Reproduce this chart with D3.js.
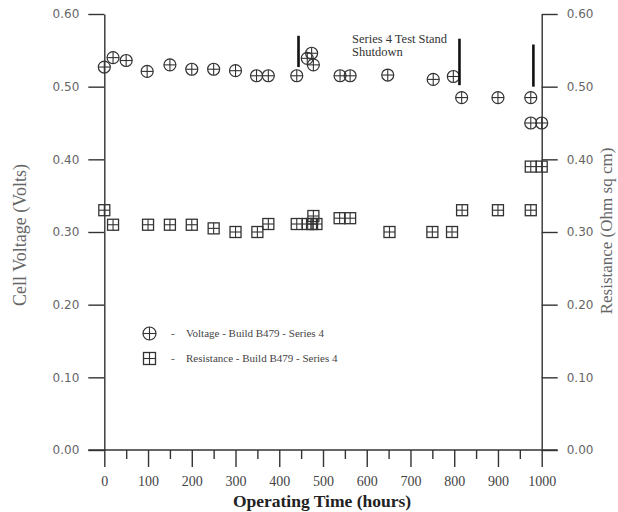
<!DOCTYPE html>
<html>
<head>
<meta charset="utf-8">
<script src="https://cdn.jsdelivr.net/npm/d3@7"></script>
<style>
  html, body { margin: 0; padding: 0; background: #fff; }
  svg { display: block; }
</style>
</head>
<body>
<svg id="chart" width="618" height="512"></svg>
<script>
// ---- data ----
const voltageHours = [0, 20, 50, 98, 150, 200, 250, 300, 348, 375, 440, 464, 474, 478, 539, 562, 648, 752, 798, 817, 900, 975, 975, 1000];
const voltageValues = [0.527, 0.540, 0.536, 0.521, 0.530, 0.524, 0.524, 0.522, 0.515, 0.515, 0.515, 0.539, 0.546, 0.530, 0.515, 0.515, 0.516, 0.510, 0.514, 0.485, 0.485, 0.485, 0.450, 0.450];

const resistanceHours = [0, 20, 100, 150, 200, 250, 300, 350, 375, 440, 465, 475, 478, 485, 538, 562, 652, 750, 795, 818, 900, 975, 975, 1000];
const resistanceValues = [0.330, 0.310, 0.310, 0.310, 0.310, 0.305, 0.300, 0.300, 0.311, 0.311, 0.311, 0.311, 0.322, 0.311, 0.319, 0.319, 0.300, 0.300, 0.300, 0.330, 0.330, 0.330, 0.390, 0.390];

const xTickValues = [0, 100, 200, 300, 400, 500, 600, 700, 800, 900, 1000];
const xMinorTicks = [50, 150, 250, 350, 450, 550, 650, 750, 850, 950];
const yTickValues = [0.00, 0.10, 0.20, 0.30, 0.40, 0.50, 0.60];

const shutdownHours = [444, 812, 981];
const shutdownTop = [0.570, 0.566, 0.558];
const shutdownBottom = [0.527, 0.502, 0.500];

const annotationLines = ["Series 4 Test Stand", "Shutdown"];
const legendLabels = ["Voltage - Build B479 - Series 4", "Resistance - Build B479 - Series 4"];

// ---- layout ----
const svg = d3.select("#chart");
const x = d3.scaleLinear().domain([0, 1000]).range([104.3, 541.7]);
const yL = d3.scaleLinear().domain([0, 0.6]).range([450, 14]);
const yR = d3.scaleLinear().domain([0, 0.6]).range([450, 14]);

const axisColor = "#333";
const serif = "'Liberation Serif', 'Times New Roman', serif";
const sans = "'DejaVu Sans', sans-serif";

function styleAxis(g, font, size, color) {
  g.selectAll("path.domain").attr("stroke", axisColor).attr("stroke-width", 1.4);
  g.selectAll(".tick line").attr("stroke", axisColor).attr("stroke-width", 1.4);
  g.selectAll(".tick text").attr("font-family", font).attr("font-size", size).attr("fill", color);
}

// left axis
const gL = svg.append("g").attr("transform", `translate(${x(0)},0)`)
  .call(d3.axisLeft(yL).tickValues(yTickValues).tickFormat(d3.format(".2f")).tickSize(16).tickSizeOuter(0).tickPadding(9));
styleAxis(gL, sans, 12, "#666");

// right axis
const gR = svg.append("g").attr("transform", `translate(${x(1000)},0)`)
  .call(d3.axisRight(yR).tickValues(yTickValues).tickFormat(d3.format(".2f")).tickSize(16).tickSizeOuter(0).tickPadding(9));
styleAxis(gR, sans, 12, "#666");

// bottom axis minor
const gBm = svg.append("g").attr("transform", `translate(0,${yL(0)})`)
  .call(d3.axisBottom(x).tickValues(xMinorTicks).tickFormat("").tickSize(9).tickSizeOuter(0));
styleAxis(gBm, serif, 14, "#444");
gBm.select("path.domain").remove();

// bottom axis major
const gB = svg.append("g").attr("transform", `translate(0,${yL(0)})`)
  .call(d3.axisBottom(x).tickValues(xTickValues).tickFormat(d3.format("d")).tickSize(17).tickSizeOuter(0).tickPadding(9));
styleAxis(gB, serif, 14, "#444");
gB.select("path.domain").remove();

// x axis line across including edge ticks
svg.append("line")
  .attr("x1", x(0) - 16).attr("x2", x(1000) + 16)
  .attr("y1", yL(0)).attr("y2", yL(0))
  .attr("stroke", axisColor).attr("stroke-width", 1.6);

// axis titles
svg.append("text")
  .attr("x", 322).attr("y", 507)
  .attr("text-anchor", "middle")
  .attr("font-family", serif).attr("font-weight", "bold").attr("font-size", 17.5).attr("fill", "#222")
  .text("Operating Time (hours)");

svg.append("text")
  .attr("transform", `translate(26,${235}) rotate(-90)`)
  .attr("text-anchor", "middle")
  .attr("font-family", serif).attr("font-size", 18).attr("fill", "#666")
  .text("Cell Voltage (Volts)");

svg.append("text")
  .attr("transform", `translate(612,${231}) rotate(-90)`)
  .attr("text-anchor", "middle")
  .attr("font-family", serif).attr("font-size", 17).attr("fill", "#666")
  .text("Resistance (Ohm sq cm)");

// markers
const mStroke = "#333";
function circleMarker(g, cx, cy, r) {
  g.append("circle").attr("cx", cx).attr("cy", cy).attr("r", r)
    .attr("fill", "none").attr("stroke", mStroke).attr("stroke-width", 1.2);
  g.append("line").attr("x1", cx - r).attr("x2", cx + r).attr("y1", cy).attr("y2", cy)
    .attr("stroke", mStroke).attr("stroke-width", 1.1);
  g.append("line").attr("x1", cx).attr("x2", cx).attr("y1", cy - r).attr("y2", cy + r)
    .attr("stroke", mStroke).attr("stroke-width", 1.1);
}
function squareMarker(g, cx, cy, h) {
  g.append("rect").attr("x", cx - h).attr("y", cy - h).attr("width", 2 * h).attr("height", 2 * h)
    .attr("fill", "none").attr("stroke", mStroke).attr("stroke-width", 1.3);
  g.append("line").attr("x1", cx - h).attr("x2", cx + h).attr("y1", cy).attr("y2", cy)
    .attr("stroke", mStroke).attr("stroke-width", 1.1);
  g.append("line").attr("x1", cx).attr("x2", cx).attr("y1", cy - h).attr("y2", cy + h)
    .attr("stroke", mStroke).attr("stroke-width", 1.1);
}

const gRes = svg.append("g");
resistanceHours.forEach((t, i) => squareMarker(gRes, x(t), yR(resistanceValues[i]), 5.5));
const gVol = svg.append("g");
voltageHours.forEach((t, i) => circleMarker(gVol, x(t), yL(voltageValues[i]), 6));

// shutdown lines
shutdownHours.forEach((t, i) => {
  svg.append("line")
    .attr("x1", x(t)).attr("x2", x(t))
    .attr("y1", yL(shutdownTop[i])).attr("y2", yL(shutdownBottom[i]))
    .attr("stroke", "#111").attr("stroke-width", 2.6);
});

// annotation text
annotationLines.forEach((s, i) => {
  svg.append("text")
    .attr("x", 352).attr("y", 43 + i * 13)
    .attr("font-family", serif).attr("font-size", 12.5).attr("fill", "#333")
    .text(s);
});

// legend
const legG = svg.append("g");
circleMarker(legG, 149.5, 333.5, 6.5);
squareMarker(legG, 149.5, 358.5, 6);
legendLabels.forEach((s, i) => {
  legG.append("text").attr("x", 171).attr("y", 337 + i * 25)
    .attr("font-family", serif).attr("font-size", 11).attr("fill", "#444").text("-");
  legG.append("text").attr("x", 186).attr("y", 337 + i * 25)
    .attr("font-family", serif).attr("font-size", 11).attr("fill", "#444").text(s);
});
</script>
</body>
</html>
